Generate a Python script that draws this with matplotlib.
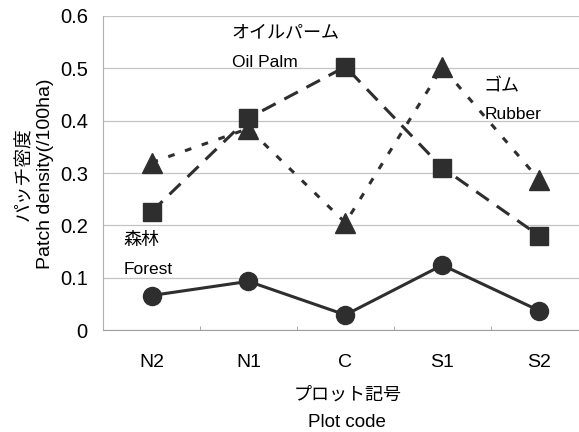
import matplotlib
matplotlib.use('Agg')
import matplotlib.pyplot as plt

plt.rcParams['font.family'] = ['Liberation Sans', 'Noto Sans CJK JP']
narrow = ['Liberation Sans Narrow', 'Liberation Sans']

codes = ['N2', 'N1', 'C', 'S1', 'S2']
forest = [0.066, 0.093, 0.029, 0.124, 0.037]
oil_palm = [0.226, 0.405, 0.503, 0.310, 0.180]
rubber = [0.320, 0.385, 0.205, 0.502, 0.287]
yticks = [0, 0.1, 0.2, 0.3, 0.4, 0.5, 0.6]
ytick_labels = ['0', '0.1', '0.2', '0.3', '0.4', '0.5', '0.6']

dark = '#2e2e2e'

fig = plt.figure(figsize=(5.79, 4.32), dpi=100)
ax = fig.add_axes([0.178, 0.236, 0.822, 0.727])

x = list(range(len(codes)))
ax.plot(x, rubber, color=dark, lw=2.2, ls=(0, (2.2, 3.6)), marker='^', ms=14,
        markerfacecolor=dark, markeredgecolor=dark, zorder=3)
ax.plot(x, oil_palm, color=dark, lw=2.2, ls=(0, (5, 3.2)), marker='s', ms=13,
        markerfacecolor=dark, markeredgecolor=dark, zorder=3)
ax.plot(x, forest, color=dark, lw=2.2, ls='-', marker='o', ms=13,
        markerfacecolor=dark, markeredgecolor=dark, zorder=3)

ax.set_xlim(-0.5, 4.41)
ax.set_ylim(0, 0.6)
ax.set_yticks(yticks)
ax.set_yticklabels(ytick_labels, fontsize=14.5, family=narrow)
ax.set_xticks(x)
ax.set_xticklabels(codes, fontsize=14, family=narrow)
ax.set_xticks([0.5, 1.5, 2.5, 3.5], minor=True)
ax.tick_params(axis='x', which='major', length=0, pad=17)
ax.tick_params(axis='x', which='minor', length=3, direction='in', color='#999999')
ax.tick_params(axis='y', length=0, pad=11)
ax.grid(axis='y', color='#c4c4c4', lw=0.9)
ax.set_axisbelow(True)
for s in ['top', 'right']:
    ax.spines[s].set_visible(False)
ax.spines['bottom'].set_color('#a0a0a0')
ax.spines['left'].set_color('#b0b0b0')

# series labels
ax.text(0.83, 0.568, 'オイルパーム', fontsize=13, ha='left', va='center')
ax.text(0.83, 0.512, 'Oil Palm', fontsize=12.5, ha='left', va='center')
ax.text(3.42, 0.465, 'ゴム', fontsize=13, ha='left', va='center')
ax.text(3.44, 0.411, 'Rubber', fontsize=12.5, ha='left', va='center')
ax.text(-0.29, 0.172, '森林', fontsize=13, ha='left', va='center')
ax.text(-0.29, 0.115, 'Forest', fontsize=12.5, ha='left', va='center')

fig.text(0.042, 0.597, 'パッチ密度', rotation=90, fontsize=13.5, ha='center', va='center')
fig.text(0.078, 0.597, 'Patch density(/100ha)', rotation=90, fontsize=14,
         ha='center', va='center')
fig.text(0.6, 0.086, 'プロット記号', fontsize=13, ha='center', va='center')
fig.text(0.6, 0.021, 'Plot code', fontsize=13.5, ha='center', va='center')

fig.savefig('out.png', dpi=100)
